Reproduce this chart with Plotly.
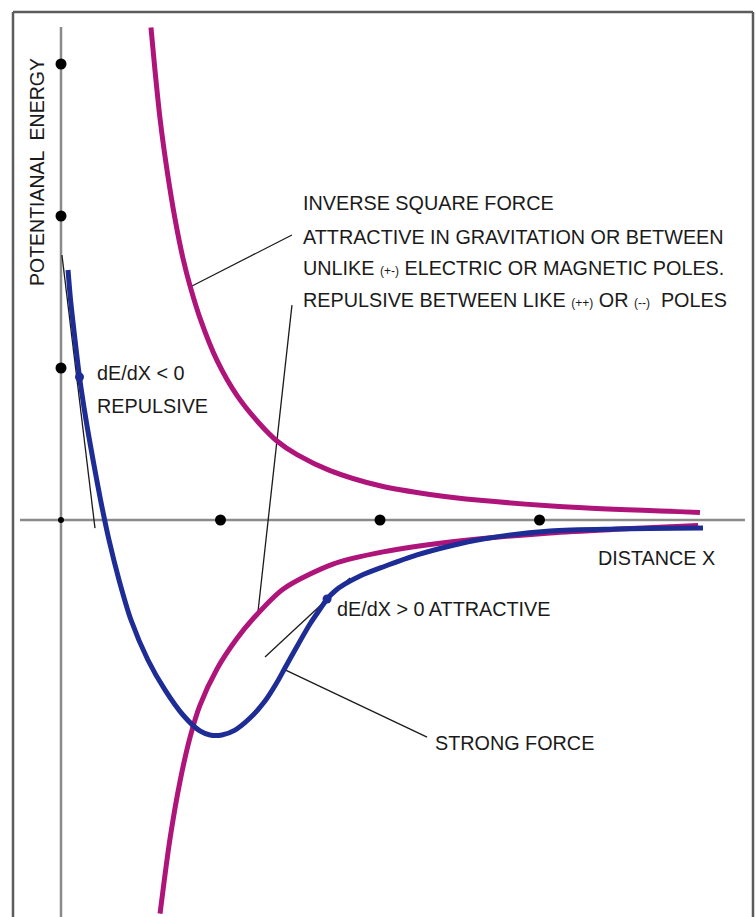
import plotly.graph_objects as go

# ---- data (distance X, potential energy E) in axis units ----
inv_rep_x = [0.564, 0.589, 0.621, 0.665, 0.715, 0.765, 0.809, 0.871, 0.978, 1.103,
             1.248, 1.354, 1.480, 1.687, 2.000, 2.313, 2.627, 3.273, 4.006]
inv_rep_y = [3.24, 2.96, 2.64, 2.30, 1.98, 1.72, 1.54, 1.33, 1.05, 0.82,
             0.63, 0.52, 0.43, 0.325, 0.225, 0.168, 0.13, 0.08, 0.05]

inv_att_x = [0.621, 0.683, 0.746, 0.809, 0.871, 0.978, 1.103, 1.204, 1.392, 1.705,
             2.019, 2.439, 3.066, 3.505, 3.994]
inv_att_y = [-2.59, -2.10, -1.72, -1.43, -1.22, -0.98, -0.78, -0.65, -0.455, -0.29,
             -0.21, -0.145, -0.085, -0.06, -0.037]

strong_x = [0.044, 0.060, 0.088, 0.116, 0.157, 0.201, 0.248, 0.301, 0.364, 0.439,
            0.545, 0.652, 0.765, 0.871, 0.934, 1.009, 1.091, 1.185, 1.279, 1.348, 1.404,
            1.467, 1.561, 1.624, 1.668, 1.718, 1.781, 1.875, 2.019, 2.232, 2.439,
            2.646, 3.066, 3.486, 4.025]
strong_y = [1.645, 1.447, 1.184, 0.941, 0.658, 0.395, 0.132, -0.132, -0.395, -0.658,
            -0.921, -1.118, -1.283, -1.388, -1.414, -1.414, -1.382, -1.303, -1.191, -1.079, -0.974,
            -0.855, -0.684, -0.586, -0.520, -0.467, -0.421, -0.368, -0.309, -0.230, -0.171,
            -0.125, -0.072, -0.059, -0.053]

# tick dots on the axes
xdot_x = [1, 2, 3]
ydot_y = [1, 2, 3]

# marked points on the strong-force curve
mark_x = [0.116, 1.668]
mark_y = [0.941, -0.520]

# tangent / pointer lines (x0, y0, x1, y1)
pointers = [
    (0.006, 1.743, 0.213, -0.053),   # tangent, repulsive
    (0.809, 1.533, 1.448, 1.875),    # to inverse square (upper)
    (1.235, -0.605, 1.448, 1.414),   # to inverse square (lower)
    (1.279, -0.901, 1.812, -0.382),  # tangent, attractive
    (1.392, -0.980, 2.295, -1.428),  # to strong force
]

axis_x_extent = [-0.257, 4.288]
axis_y_extent = [-3.0, 3.243]

MAGENTA = "#AE1479"
BLUE = "#1E2C96"
GRAY = "#8a8a8a"
INK = "#1a1a1a"
FONT = "Liberation Sans, Arial, sans-serif"

fig = go.Figure()

# axes
fig.add_trace(go.Scatter(x=axis_x_extent, y=[0, 0], mode="lines",
                         line=dict(color=GRAY, width=2.5), hoverinfo="skip"))
fig.add_trace(go.Scatter(x=[0, 0], y=axis_y_extent, mode="lines",
                         line=dict(color=GRAY, width=2.5), hoverinfo="skip"))

# pointer lines
for (x0, y0, x1, y1) in pointers:
    fig.add_trace(go.Scatter(x=[x0, x1], y=[y0, y1], mode="lines",
                             line=dict(color=INK, width=1.3), hoverinfo="skip"))

# curves
fig.add_trace(go.Scatter(x=inv_rep_x, y=inv_rep_y, mode="lines",
                         line=dict(color=MAGENTA, width=5, shape="spline", smoothing=0.8)))
fig.add_trace(go.Scatter(x=inv_att_x, y=inv_att_y, mode="lines",
                         line=dict(color=MAGENTA, width=5, shape="spline", smoothing=0.8)))
fig.add_trace(go.Scatter(x=strong_x, y=strong_y, mode="lines",
                         line=dict(color=BLUE, width=5, shape="spline", smoothing=0.8)))

# axis dots
fig.add_trace(go.Scatter(x=xdot_x, y=[0] * len(xdot_x), mode="markers",
                         marker=dict(color="black", size=11)))
fig.add_trace(go.Scatter(x=[0] * len(ydot_y), y=ydot_y, mode="markers",
                         marker=dict(color="black", size=11)))
fig.add_trace(go.Scatter(x=[0], y=[0], mode="markers",
                         marker=dict(color="black", size=6)))
fig.add_trace(go.Scatter(x=mark_x, y=mark_y, mode="markers",
                         marker=dict(color=BLUE, size=9)))

W, H = 756, 917


def px(x):
    return x / W


def py(y):
    return 1 - y / H


small = "<span style='font-size:12px'>%s</span>"
labels = [
    ("INVERSE SQUARE FORCE", 301, 203),
    ("ATTRACTIVE IN GRAVITATION OR BETWEEN", 301, 237),
    ("UNLIKE " + small % "(+-)" + " ELECTRIC OR MAGNETIC POLES.", 301, 268),
    ("REPULSIVE BETWEEN LIKE " + small % "(++)" + " OR " + small % "(--)" + "  POLES", 301, 300),
    ("dE/dX &lt; 0", 95, 373),
    ("REPULSIVE", 95, 406),
    ("DISTANCE X", 596, 558),
    ("dE/dX &gt; 0 ATTRACTIVE", 335, 609),
    ("STRONG FORCE", 433, 743),
]
annotations = []
for text, x, y in labels:
    annotations.append(dict(text=text, x=px(x), y=py(y), xref="paper", yref="paper",
                            xanchor="left", yanchor="middle", showarrow=False,
                            font=dict(family=FONT, size=19.8, color=INK)))
annotations.append(dict(text="POTENTIANAL  ENERGY", x=px(37), y=py(172), xref="paper", yref="paper",
                        xanchor="center", yanchor="middle", showarrow=False, textangle=-90,
                        font=dict(family=FONT, size=19.5, color=INK)))

frame = dict(color="#5c5c5c", width=2.5)
shapes = [
    dict(type="line", xref="paper", yref="paper", x0=px(13), x1=px(13), y0=py(12), y1=py(930), line=frame),
    dict(type="line", xref="paper", yref="paper", x0=px(13), x1=px(753), y0=py(12), y1=py(12), line=frame),
    dict(type="line", xref="paper", yref="paper", x0=px(753), x1=px(753), y0=py(12), y1=py(930), line=frame),
]

fig.update_layout(
    width=W, height=H, margin=dict(l=0, r=0, t=0, b=0),
    paper_bgcolor="white", plot_bgcolor="white", showlegend=False,
    xaxis=dict(range=[-61 / 159.5, (W - 61) / 159.5], visible=False, fixedrange=True),
    yaxis=dict(range=[-(H - 520) / 152, 520 / 152], visible=False, fixedrange=True),
    annotations=annotations, shapes=shapes,
)

fig.write_html("out.html", config={"displayModeBar": False},
               post_script="document.body.style.margin='0';")
